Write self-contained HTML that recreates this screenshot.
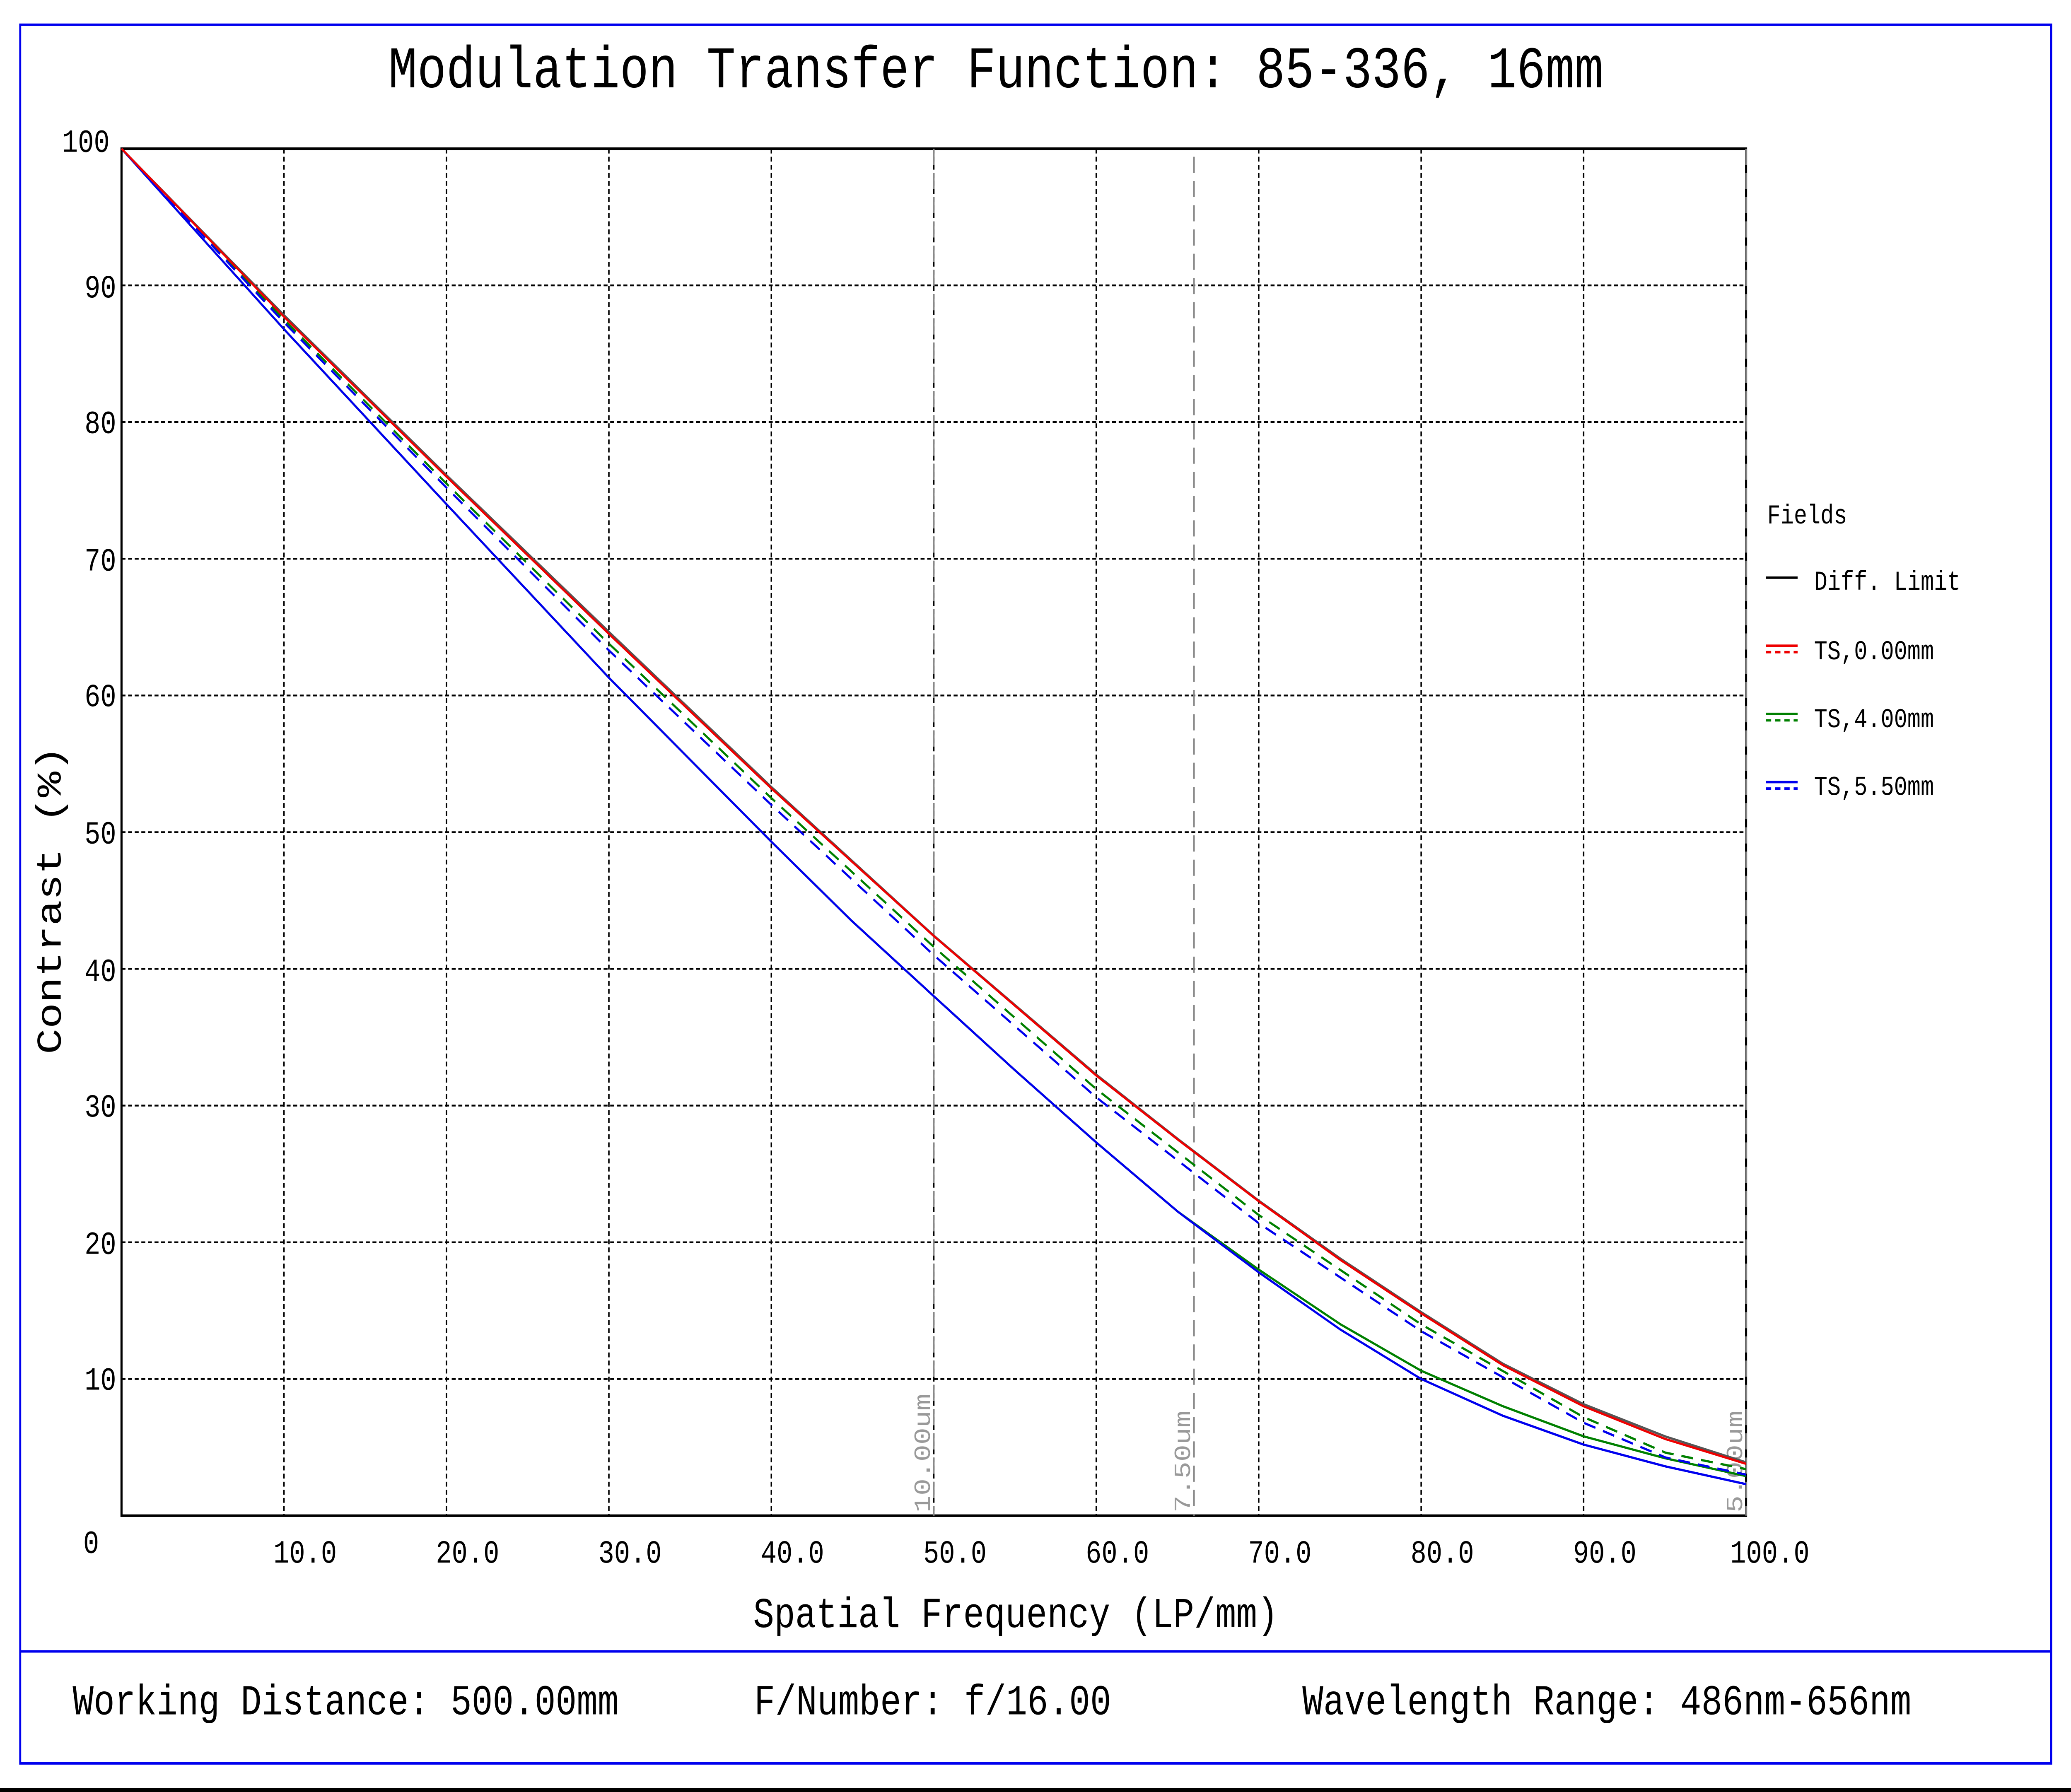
<!DOCTYPE html>
<html><head><meta charset="utf-8"><style>
html,body{margin:0;padding:0;background:#fff;overflow:hidden;width:100%;height:100%;}
svg{display:block;width:100vw;height:100vh;}
text{font-family:"Liberation Mono","DejaVu Sans Mono",monospace;}
</style></head><body>
<svg viewBox="0 0 1568 1109" preserveAspectRatio="none" xmlns="http://www.w3.org/2000/svg">
<rect x="0" y="0" width="1568" height="1109" fill="#fff"/>
<rect x="15.3" y="15.3" width="1537.7" height="1076" fill="none" stroke="#0000ee" stroke-width="1.5"/>
<line x1="15.3" y1="1022" x2="1553" y2="1022" stroke="#0000ee" stroke-width="1.5"/>
<rect x="0" y="1106.5" width="1568" height="3" fill="#000"/>

<text x="754" y="54" font-size="36.5" text-anchor="middle">Modulation Transfer Function: 85-336, 16mm</text>

<g stroke="#000" stroke-width="1.1" stroke-dasharray="3,2">
<line x1="215" y1="92" x2="215" y2="938"/><line x1="338" y1="92" x2="338" y2="938"/>
<line x1="461" y1="92" x2="461" y2="938"/><line x1="584" y1="92" x2="584" y2="938"/>
<line x1="707" y1="92" x2="707" y2="938"/><line x1="830" y1="92" x2="830" y2="938"/>
<line x1="953" y1="92" x2="953" y2="938"/><line x1="1076" y1="92" x2="1076" y2="938"/>
<line x1="1199" y1="92" x2="1199" y2="938"/>
<line x1="92" y1="176.6" x2="1322" y2="176.6"/><line x1="92" y1="261.2" x2="1322" y2="261.2"/>
<line x1="92" y1="345.8" x2="1322" y2="345.8"/><line x1="92" y1="430.4" x2="1322" y2="430.4"/>
<line x1="92" y1="515" x2="1322" y2="515"/><line x1="92" y1="599.6" x2="1322" y2="599.6"/>
<line x1="92" y1="684.2" x2="1322" y2="684.2"/><line x1="92" y1="768.8" x2="1322" y2="768.8"/>
<line x1="92" y1="853.4" x2="1322" y2="853.4"/>
</g>
<rect x="92" y="92" width="1230" height="846" fill="none" stroke="#000" stroke-width="1.6"/>
<g stroke="#888" stroke-width="1.2" stroke-dasharray="10,5">
<line x1="707" y1="92" x2="707" y2="938"/>
<line x1="904" y1="97" x2="904" y2="938"/>
<line x1="1322" y1="92" x2="1322" y2="938"/>
</g>
<g fill="#999" font-size="17.5">
<text transform="translate(704,936) rotate(-90)">10.00um</text>
<text transform="translate(901,936) rotate(-90)">7.50um</text>
<text transform="translate(1319,936) rotate(-90)">5.00um</text>
</g>

<g fill="none" stroke-width="1.4" stroke-linejoin="round">
<polyline stroke="#555" points="92,92 215,195 338,294 461,391 584,487 707,579 830,665 892,705 953,743 1015,779 1076,812 1138,844 1199,869 1261,889 1322,905"/>
<polyline stroke="#008000" points="92,92 215,203.7 338,312 461,419.4 584,520.9 645,570 707,616.5 768,662 830,707 892,750 953,785.7 1015,819.6 1076,848.3 1138,870.3 1199,888.9 1261,902.5 1322,913.5"/>
<polyline stroke="#0000ee" points="92,92 215,203.7 338,312 461,419.4 584,520.9 645,570 707,616.5 768,662 830,707 892,750 953,787.4 1015,822.9 1076,853.4 1138,876.2 1199,894 1261,907.5 1322,918.5"/>
<polyline stroke="#008000" stroke-dasharray="9,6" points="92,92 215,197.8 338,299.3 461,398.3 584,493.9 707,586 830,674 953,751.9 1076,819.6 1199,877 1261,899 1322,909.2"/>
<polyline stroke="#0000ee" stroke-dasharray="9,6" points="92,92 215,199.5 338,301.8 461,402.5 584,498.1 707,591.1 830,679.1 953,757 1076,823.8 1199,880.5 1261,902 1322,912.6"/>
<polyline stroke="#ee0000" points="92,92 215,196 338,295 461,392.3 584,487.9 707,579.3 830,665.6 892,705.4 953,743.4 1015,779.8 1076,812.8 1138,844.9 1199,870.3 1261,890.6 1322,905.9"/>
</g>

<g font-size="20" text-anchor="end">
<text x="83" y="94">100</text><text x="88" y="184">90</text><text x="88" y="268">80</text>
<text x="88" y="353">70</text><text x="88" y="437">60</text><text x="88" y="522">50</text>
<text x="88" y="607">40</text><text x="88" y="691">30</text><text x="88" y="776">20</text>
<text x="88" y="860">10</text><text x="75" y="961">0</text>
</g>
<g font-size="20" text-anchor="middle">
<text x="231" y="967">10.0</text><text x="354" y="967">20.0</text><text x="477" y="967">30.0</text>
<text x="600" y="967">40.0</text><text x="723" y="967">50.0</text><text x="846" y="967">60.0</text>
<text x="969" y="967">70.0</text><text x="1092" y="967">80.0</text><text x="1215" y="967">90.0</text>
<text x="1340" y="967">100.0</text>
</g>
<text x="769" y="1007" font-size="26.5" text-anchor="middle">Spatial Frequency (LP/mm)</text>
<text transform="translate(46,557) rotate(-90)" font-size="26.5" text-anchor="middle">Contrast (%)</text>

<g font-size="16.8">
<text x="1338" y="324">Fields</text>
<text x="1373.5" y="365">Diff. Limit</text>
<text x="1373.5" y="408">TS,0.00mm</text>
<text x="1373.5" y="450">TS,4.00mm</text>
<text x="1373.5" y="492">TS,5.50mm</text>
</g>
<g stroke-width="1.5">
<line x1="1337" y1="357.5" x2="1361" y2="357.5" stroke="#000"/>
<line x1="1337" y1="399.6" x2="1361" y2="399.6" stroke="#ee0000"/>
<line x1="1337" y1="403.6" x2="1361" y2="403.6" stroke="#ee0000" stroke-dasharray="4,3"/>
<line x1="1337" y1="441.8" x2="1361" y2="441.8" stroke="#008000"/>
<line x1="1337" y1="445.8" x2="1361" y2="445.8" stroke="#008000" stroke-dasharray="4,3"/>
<line x1="1337" y1="484" x2="1361" y2="484" stroke="#0000ee"/>
<line x1="1337" y1="488" x2="1361" y2="488" stroke="#0000ee" stroke-dasharray="4,3"/>
</g>

<g font-size="26.5">
<text x="55" y="1061">Working Distance: 500.00mm</text>
<text x="571" y="1061">F/Number: f/16.00</text>
<text x="986" y="1061">Wavelength Range: 486nm-656nm</text>
</g>
</svg>
</body></html>
